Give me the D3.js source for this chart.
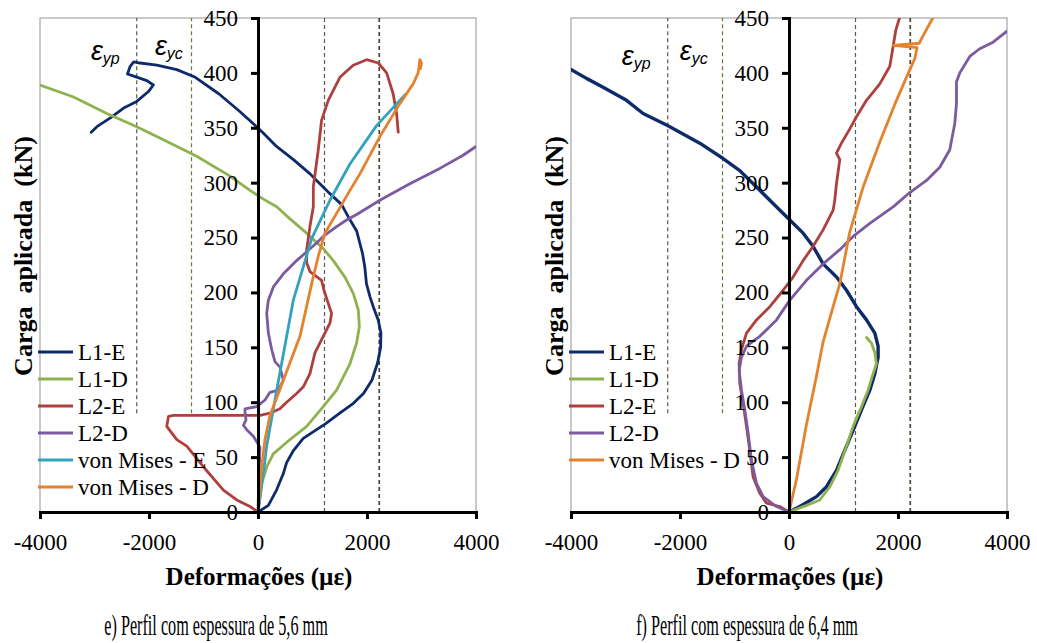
<!DOCTYPE html>
<html>
<head>
<meta charset="utf-8">
<script src="https://cdn.jsdelivr.net/npm/d3@7"></script>
<style>
  html, body { margin: 0; padding: 0; background: #fff; }
  svg { display: block; }
  .serif { font-family: "Liberation Serif", "Times New Roman", serif; }
</style>
</head>
<body>
<svg id="chart" width="1037" height="643"></svg>
<script>
// ---- axis ticks ----
const strainTicks = [-4000, -2000, 0, 2000, 4000];
const loadTicks = [0, 50, 100, 150, 200, 250, 300, 350, 400, 450];

// yield strains (dashed reference lines): εyp and εyc, both signs
const yieldStrains = [-2225, -1220, 1220, 2225];

// series names and colours
const seriesNames = ["L1-E", "L1-D", "L2-E", "L2-D", "von Mises - E", "von Mises - D"];
const seriesColors = ["#0d2b6b", "#8fb24f", "#ad403c", "#7b5b9f", "#33a3bd", "#e5822e"];

// ---- e) 5,6 mm : [strain (µε), load (kN)] ----
const e_L1E = [[0,0],[190,6],[340,20],[465,35],[525,45],[650,56],[830,67],[1075,75],[1230,80],[1500,90],[1750,99],[1935,108],[2090,120],[2195,136],[2250,150],[2255,163],[2205,175],[2115,187],[2055,196],[1990,208],[1960,223],[1920,235],[1810,256],[1655,269],[1535,280],[1320,290],[1075,302],[955,308],[650,321],[340,333],[100,345],[-25,351],[-360,366],[-720,381],[-1150,396],[-1490,403],[-1855,407],[-2165,409],[-2280,410],[-2345,406],[-2395,399],[-2280,397],[-2040,393],[-1920,389],[-2010,383],[-2225,374],[-2465,368],[-2710,359],[-2955,351],[-3060,346]];
const e_L1D = [[0,0],[68,26],[160,41],[280,53],[587,66],[893,78],[1197,96],[1442,111],[1687,135],[1810,154],[1860,169],[1840,184],[1750,199],[1595,214],[1382,229],[1197,240],[893,254],[587,267],[343,278],[98,285],[-147,293],[-513,306],[-1125,324],[-1736,339],[-2225,351],[-2775,363],[-3385,378],[-4000,389]];
const e_L2E = [[0,0],[-147,5],[-390,11],[-635,20],[-1000,41],[-1307,60],[-1490,66],[-1674,78],[-1643,87],[-1550,88],[37,88],[220,90],[403,94],[525,100],[709,108],[831,114],[953,126],[1045,145],[1197,160],[1320,172],[1350,181],[1289,190],[1210,202],[1167,211],[953,219],[893,227],[893,239],[953,260],[1015,278],[1015,296],[1106,330],[1167,357],[1289,375],[1503,396],[1747,407],[1993,412],[2207,409],[2360,400],[2480,381],[2543,363],[2573,346]];
const e_L2D = [[0,0],[15,30],[37,59],[-86,69],[-207,75],[-268,79],[-220,84],[-238,90],[-238,94],[-24,96],[128,102],[220,109],[372,111],[465,120],[403,132],[312,137],[251,148],[190,163],[160,181],[190,193],[282,205],[465,217],[709,229],[1075,245],[1197,251],[1442,260],[1625,266],[1810,271],[2236,284],[2786,299],[3336,313],[3764,325],[4000,333]];
const e_vME = [[0,0],[98,35],[159,60],[343,111],[526,160],[648,193],[739,208],[985,249],[1320,284],[1687,317],[2176,352],[2695,380]];
const e_vMD = [[0,0],[68,41],[128,66],[220,88],[465,120],[770,160],[985,208],[1106,233],[1228,254],[1442,272],[1687,293],[1870,308],[2236,342],[2603,372],[2847,390],[2939,400],[2970,412],[3000,409],[2982,404]];

// ---- f) 6,4 mm ----
const f_L1E = [[0,0],[198,5],[505,14],[688,23],[872,38],[1055,60],[1207,78],[1330,93],[1483,111],[1575,126],[1635,141],[1635,151],[1575,163],[1422,175],[1239,187],[1055,202],[872,214],[626,226],[442,242],[259,254],[15,266],[-292,281],[-596,296],[-903,311],[-1209,322],[-1637,336],[-2229,352],[-2677,363],[-2982,375],[-3411,387],[-3716,395],[-4000,403]];
const f_L1D = [[0,0],[321,6],[565,11],[749,23],[901,38],[1055,60],[1176,78],[1330,96],[1451,111],[1543,126],[1605,135],[1575,145],[1513,154],[1422,159]];
const f_L2E = [[0,0],[-169,5],[-413,8],[-536,17],[-659,32],[-719,56],[-780,78],[-842,99],[-903,117],[-915,135],[-872,148],[-780,163],[-596,175],[-352,187],[-108,202],[75,214],[259,229],[442,242],[626,257],[810,275],[840,284],[871,299],[932,321],[871,327],[963,336],[1116,349],[1238,360],[1422,375],[1666,390],[1850,406],[1910,424],[1960,439],[2033,451],[2060,456]];
const f_L2D = [[0,0],[-229,5],[-475,14],[-596,26],[-688,47],[-750,72],[-811,93],[-872,111],[-915,129],[-872,141],[-780,151],[-536,160],[-229,175],[15,193],[321,211],[626,226],[932,239],[1176,251],[1483,263],[1910,278],[2217,291],[2523,302],[2767,314],[2950,330],[3042,354],[3073,372],[3073,392],[3134,400],[3317,415],[3500,422],[3745,428],[4000,438]];
const f_vMD = [[0,0],[138,30],[321,80],[505,124],[626,155],[810,187],[932,208],[1115,255],[1360,296],[1666,337],[1972,375],[2217,403],[2308,413],[2350,423],[1910,425],[2390,427],[2461,434],[2583,445],[2675,453]];

const panels = [
  { x0: 40, caption: "e) Perfil com espessura de 5,6 mm", eps: [-3065, -1890],
    series: [e_L1E, e_L1D, e_L2E, e_L2D, e_vME, e_vMD], legend: [0, 1, 2, 3, 4, 5] },
  { x0: 571, caption: "f) Perfil com espessura de 6,4 mm", eps: [-3068, -2004],
    series: [f_L1E, f_L1D, f_L2E, f_L2D, null, f_vMD], legend: [0, 1, 2, 3, 5] }
];

const svg = d3.select("#chart");
const W = 436, plotTop = 18, plotBottom = 512;
const y = d3.scaleLinear().domain([0, 450]).range([plotBottom, plotTop]);

panels.forEach((p, pi) => {
  const x = d3.scaleLinear().domain([-4000, 4000]).range([p.x0, p.x0 + W]);
  const g = svg.append("g");

  // plot frame
  g.append("rect").attr("x", p.x0).attr("y", plotTop).attr("width", W).attr("height", plotBottom - plotTop)
    .attr("fill", "none").attr("stroke", "#a6a6a6").attr("stroke-width", 1.2);

  const clipId = "clip" + pi;
  svg.append("clipPath").attr("id", clipId).append("rect")
    .attr("x", p.x0).attr("y", plotTop).attr("width", W).attr("height", plotBottom - plotTop);

  // yield strain lines
  const dashColors = ["#5b5a45", "#60803a", "#5a5a5a", "#4b4732"];
  yieldStrains.forEach((s, i) => {
    g.append("line")
      .attr("x1", x(s)).attr("x2", x(s))
      .attr("y1", y(s < 0 ? 90 : 0)).attr("y2", y(450))
      .attr("stroke", dashColors[i]).attr("stroke-width", s > 2000 ? 1.7 : 1.2)
      .attr("stroke-dasharray", "4,3");
  });

  // epsilon labels
  const eps = [["yp", p.eps[0], 60 + pi * 5], ["yc", p.eps[1], 55 + pi * 5]];
  eps.forEach(([sub, sx, by]) => {
    const t = g.append("text").attr("x", x(sx)).attr("y", by)
      .attr("font-family", "Liberation Sans, Arial, sans-serif").attr("font-style", "italic")
      .attr("font-size", 27).attr("fill", "#000");
    t.append("tspan").text("ε");
    t.append("tspan").attr("font-size", 16).attr("dy", 4).text(sub);
  });

  // series
  const line = d3.line().x(d => x(d[0])).y(d => y(d[1]));
  const lg = g.append("g").attr("clip-path", `url(#${clipId})`);
  p.series.forEach((data, i) => {
    if (!data) return;
    lg.append("path").datum(data).attr("d", line)
      .attr("fill", "none").attr("stroke", seriesColors[i])
      .attr("stroke-width", pi === 1 && i === 0 ? 3.4 : 2.8)
      .attr("stroke-linejoin", "round").attr("stroke-linecap", "round");
  });

  // axes
  const xAxis = d3.axisBottom(x).tickValues(strainTicks).tickSize(7);
  const gx = g.append("g").attr("transform", `translate(0,${plotBottom})`).call(xAxis);
  gx.select(".domain").attr("stroke", "#000").attr("stroke-width", 3);
  gx.selectAll(".tick line").attr("stroke", "#000").attr("stroke-width", 3);
  gx.selectAll(".tick text").attr("class", "serif").attr("font-size", 23).attr("fill", "#000")
    .attr("y", 22).attr("dy", "0.71em")
    .text(d => d < 0 ? "-" + Math.abs(d) : String(d));

  const yAxis = d3.axisLeft(y).tickValues(loadTicks).tickSize(7);
  const gy = g.append("g").attr("transform", `translate(${x(0)},0)`).call(yAxis);
  gy.select(".domain").attr("stroke", "#000").attr("stroke-width", 3);
  gy.selectAll(".tick line").attr("stroke", "#000").attr("stroke-width", 3);
  gy.selectAll(".tick text").attr("class", "serif").attr("font-size", 23).attr("fill", "#000")
    .attr("x", -20);

  // axis titles
  g.append("text").attr("class", "serif").attr("font-weight", "bold").attr("font-size", 25)
    .attr("text-anchor", "middle")
    .attr("transform", `translate(${p.x0 + W / 2 + 1},585)`)
    .text("Deformações (µε)");
  g.append("text").attr("class", "serif").attr("font-weight", "bold").attr("font-size", 26)
    .attr("text-anchor", "middle").attr("xml:space", "preserve")
    .attr("transform", `translate(${p.x0 - 8},256) rotate(-90)`)
    .text("Carga  aplicada  (kN)");

  // caption
  g.append("text").attr("class", "serif").attr("font-size", 30)
    .attr("text-anchor", "middle")
    .attr("transform", `translate(${p.x0 + 176},635) scale(0.54,1)`)
    .text(p.caption);

  // legend
  const rowY = [352, 379, 406, 433, 460, 487];
  p.legend.forEach((si, r) => {
    const ly = rowY[r];
    g.append("line").attr("x1", p.x0 - 2).attr("x2", p.x0 + 33).attr("y1", ly).attr("y2", ly)
      .attr("stroke", seriesColors[si]).attr("stroke-width", 3);
    g.append("text").attr("class", "serif").attr("font-size", 23).attr("fill", "#000")
      .attr("x", p.x0 + 38).attr("y", ly).attr("dy", "0.35em").text(seriesNames[si]);
  });
});
</script>
</body>
</html>
